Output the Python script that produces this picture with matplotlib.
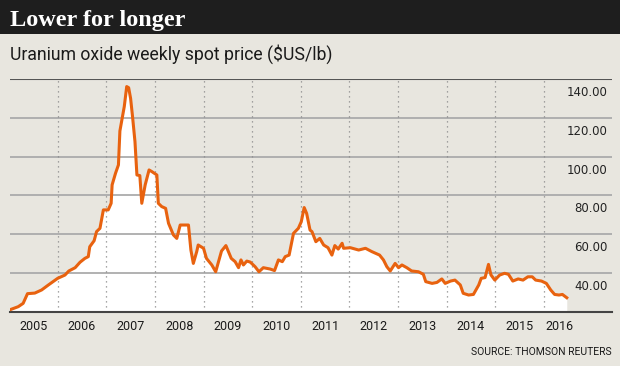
import matplotlib
matplotlib.use('Agg')
import matplotlib.pyplot as plt
from matplotlib.patches import Rectangle
from matplotlib import transforms

# weekly spot price (decimal years)
dates = [2005.04, 2005.19, 2005.29, 2005.38, 2005.53, 2005.67, 2005.81,
         2006.00, 2006.15, 2006.23, 2006.36, 2006.46, 2006.56, 2006.63,
         2006.66, 2006.75, 2006.80, 2006.87, 2006.94, 2007.04, 2007.10,
         2007.12, 2007.19, 2007.25, 2007.28, 2007.33, 2007.37, 2007.42,
         2007.46, 2007.50, 2007.54, 2007.59, 2007.63, 2007.69, 2007.73,
         2007.80, 2007.88, 2007.94, 2008.04, 2008.07, 2008.14, 2008.22,
         2008.28, 2008.38, 2008.45, 2008.52, 2008.69, 2008.74, 2008.79,
         2008.86, 2008.89, 2009.00, 2009.06, 2009.17, 2009.25, 2009.37,
         2009.46, 2009.57, 2009.65, 2009.72, 2009.77, 2009.82, 2009.89,
         2009.96, 2010.06, 2010.14, 2010.23, 2010.37, 2010.46, 2010.54,
         2010.62, 2010.68, 2010.76, 2010.85, 2010.95, 2011.01, 2011.07,
         2011.12, 2011.19, 2011.23, 2011.31, 2011.39, 2011.47, 2011.56,
         2011.64, 2011.70, 2011.77, 2011.85, 2011.88, 2012.02, 2012.19,
         2012.33, 2012.46, 2012.62, 2012.70, 2012.77, 2012.84, 2012.94,
         2013.01, 2013.08, 2013.18, 2013.28, 2013.42, 2013.52, 2013.57,
         2013.70, 2013.80, 2013.90, 2013.97, 2014.08, 2014.17, 2014.28,
         2014.34, 2014.45, 2014.55, 2014.66, 2014.71, 2014.79, 2014.86,
         2014.91, 2014.99, 2015.09, 2015.19, 2015.27, 2015.36, 2015.47,
         2015.57, 2015.67, 2015.76, 2015.83, 2015.95, 2016.05, 2016.14,
         2016.22, 2016.31, 2016.38, 2016.47]
price = [21.2, 22.6, 24.3, 29.3, 29.6, 31.2, 33.8,
         37.2, 38.9, 41.0, 42.7, 45.5, 47.5, 48.4,
         53.5, 56.6, 61.3, 63.0, 72.5, 72.5, 75.9,
         85.4, 91.4, 95.7, 113.2, 120.1, 125.8, 136.1,
         135.5, 130.0, 120.6, 107.7, 90.5, 90.2, 75.9,
         85.4, 93.1, 92.2, 90.5, 75.9, 74.2, 73.3,
         65.6, 59.6, 57.8, 64.7, 64.7, 51.8, 44.9,
         51.0, 54.4, 52.7, 47.5, 44.1, 40.6, 51.3,
         54.1, 47.5, 45.8, 42.7, 46.7, 44.1, 46.1,
         45.6, 43.2, 40.6, 42.7, 42.0, 41.2, 46.7,
         45.8, 48.4, 49.2, 60.4, 63.0, 66.4, 73.7,
         70.7, 62.1, 61.3, 56.1, 57.8, 54.4, 53.0,
         49.2, 54.1, 52.3, 55.3, 52.7, 53.0, 51.8,
         52.7, 51.0, 49.2, 46.7, 43.2, 41.0, 44.9,
         42.7, 44.1, 42.7, 41.0, 40.6, 39.3, 35.5,
         34.6, 35.1, 36.9, 34.6, 35.8, 36.3, 33.8,
         29.5, 28.6, 28.9, 33.8, 37.2, 37.6, 44.4,
         39.0, 36.3, 38.9, 39.8, 39.3, 35.8, 36.9,
         36.3, 38.0, 38.0, 36.3, 35.8, 34.6, 31.2,
         28.9, 28.6, 28.9, 27.2]

year_labels = ['2005', '2006', '2007', '2008', '2009', '2010',
               '2011', '2012', '2013', '2014', '2015', '2016']
year_label_pos = [2005.5, 2006.5, 2007.5, 2008.5, 2009.5, 2010.5,
                  2011.5, 2012.5, 2013.5, 2014.5, 2015.5, 2016.33]
year_lines = list(range(2006, 2017))
y_ticks = [40, 60, 80, 100, 120, 140]

bg = '#e8e6df'
orange = '#e8620f'
W, H = 620, 366

fig = plt.figure(figsize=(6.2, 3.66), dpi=100, facecolor=bg)

# black title bar
fig.patches.append(Rectangle((0, 1 - 34/H), 1, 34/H, transform=fig.transFigure,
                             facecolor='#1e1e1e', edgecolor='none', zorder=0))
fig.text(10/W, 1 - 26/H, 'Lower for longer', color='white', fontsize=17.5,
         fontweight='bold', family='Liberation Serif', va='baseline', ha='left')
fig.text(10/W, 1 - 60/H, 'Uranium oxide weekly spot price ($US/lb)', color='#1a1a1a',
         fontsize=12.7, family='Roboto', va='baseline', ha='left')
fig.text(612/W, 1 - 352/H, 'SOURCE: THOMSON REUTERS', color='#1a1a1a', fontsize=7.5,
         family='Roboto', va='center', ha='right')

ax = fig.add_axes([10/W, 1 - 311.7/H, 602/W, (311.7 - 79)/H])
ax.set_facecolor(bg)
ax.set_xlim(2005.02, 2017.40)
ax.set_ylim(20, 140)

ax.fill_between(dates, price, 20, color='white', lw=0, zorder=1)
ax.plot(dates, price, color=orange, lw=2.2, zorder=4, solid_joinstyle='round')

for v in y_ticks[:-1]:
    ax.axhline(v, color='#ababab', lw=1.3, zorder=2)
ax.axhline(140, color='#555555', lw=1.5, zorder=2)
for yr in year_lines:
    ax.axvline(yr, color='#8a8a8a', lw=0.9, ls=(0, (1, 3)), zorder=2)

# y labels sit just below their gridline, right aligned inside the plot
trans = transforms.offset_copy(ax.get_yaxis_transform(), fig=fig, x=0, y=-5, units='points')
for v in y_ticks:
    ax.text(0.993, v, '%.2f' % v, transform=trans, ha='right', va='top',
            fontsize=8.5, color='#222222', family='DejaVu Sans')

ax.set_yticks([])
ax.set_xticks(year_label_pos)
ax.set_xticklabels(year_labels, fontsize=9, color='#1a1a1a', family='Roboto')
ax.tick_params(axis='x', length=0, pad=6)
for s in ['top', 'left', 'right']:
    ax.spines[s].set_visible(False)
ax.spines['bottom'].set_color('#444444')
ax.spines['bottom'].set_linewidth(1.5)

fig.savefig('out.png', dpi=100, facecolor=bg)
